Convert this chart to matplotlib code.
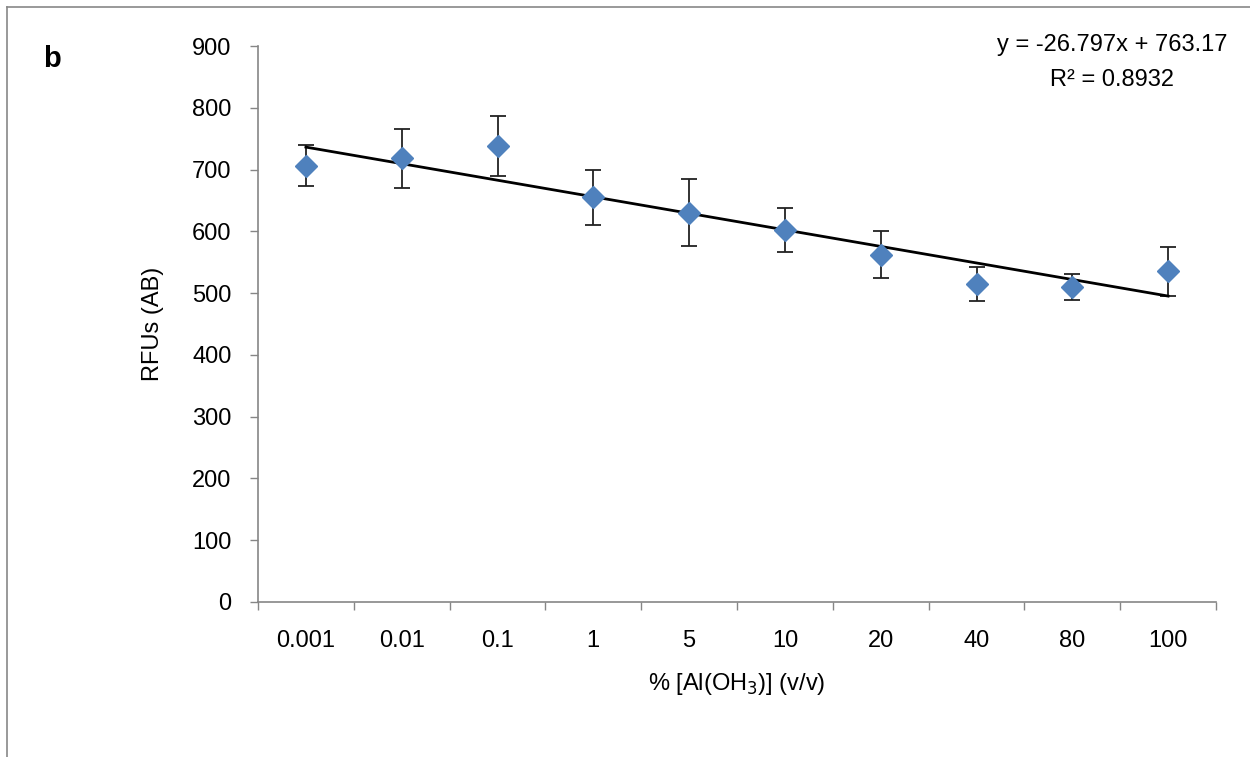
import numpy as np
import matplotlib.pyplot as plt
from matplotlib.lines import Line2D

plt.rcParams['font.family'] = ['Liberation Sans', 'DejaVu Sans']

# data
categories = ['0.001', '0.01', '0.1', '1', '5', '10', '20', '40', '80', '100']
rfu        = [706, 718, 738, 655, 630, 602, 562, 515, 510, 535]
rfu_err    = [33, 48, 48, 45, 54, 35, 38, 27, 21, 39]
slope      = -26.797
intercept  = 763.17
r_squared  = 0.8932

axis_grey = '#868686'
marker_blue = '#4F81BD'

fig = plt.figure(figsize=(12.5, 7.57), dpi=100)
ax = fig.add_axes([0.2064, 0.2048, 0.7664, 0.7344])

x = np.arange(1, len(categories) + 1)
ax.errorbar(x, rfu, yerr=rfu_err, fmt='none', ecolor='#222222', elinewidth=1.3,
            capsize=6, capthick=1.3, zorder=2)
ax.plot(x, rfu, linestyle='none', marker='D', markersize=11.5, color=marker_blue,
        markeredgecolor=marker_blue, zorder=4)

# linear trendline from the printed equation
trend_x = np.array([x[0], x[-1]])
ax.plot(trend_x, slope * trend_x + intercept, color='black', linewidth=2, zorder=3)

ax.set_xlim(0.5, len(categories) + 0.5)
ax.set_ylim(0, 900)
ax.set_yticks(np.arange(0, 901, 100))

ax.set_xticks(np.arange(0.5, len(categories) + 1, 1))
ax.set_xticklabels([])
ax.set_xticks(x, minor=True)
ax.set_xticklabels(categories, minor=True)
ax.tick_params(axis='x', which='major', direction='out', length=6, width=1, color=axis_grey)
ax.tick_params(axis='x', which='minor', length=0, pad=20, labelsize=17)
ax.tick_params(axis='y', direction='out', length=6, width=1, color=axis_grey,
               pad=13, labelsize=17)

for side in ['top', 'right']:
    ax.spines[side].set_visible(False)
for side in ['left', 'bottom']:
    ax.spines[side].set_color(axis_grey)
    ax.spines[side].set_linewidth(1.2)

ax.set_xlabel('% [Al(OH$_3$)] (v/v)', fontsize=17, labelpad=14)
ax.set_ylabel('RFUs (AB)', fontsize=17, labelpad=20)

fig.text(0.0344, 0.922, 'b', fontsize=21, fontweight='bold', va='center', ha='left')
fig.text(0.8896, 0.9406, 'y = %.3fx + %.2f' % (slope, intercept),
         fontsize=17, ha='center', va='center')
fig.text(0.8896, 0.8943, 'R² = %.4f' % r_squared,
         fontsize=17, ha='center', va='center')

# outer chart frame (only left and top edges show in the crop)
fig.add_artist(Line2D([0.0056, 0.0056], [0, 0.9908], color='#888888', linewidth=1.2,
                      transform=fig.transFigure))
fig.add_artist(Line2D([0.0056, 1], [0.9908, 0.9908], color='#888888', linewidth=1.2,
                      transform=fig.transFigure))

fig.savefig('out.png', dpi=100)
